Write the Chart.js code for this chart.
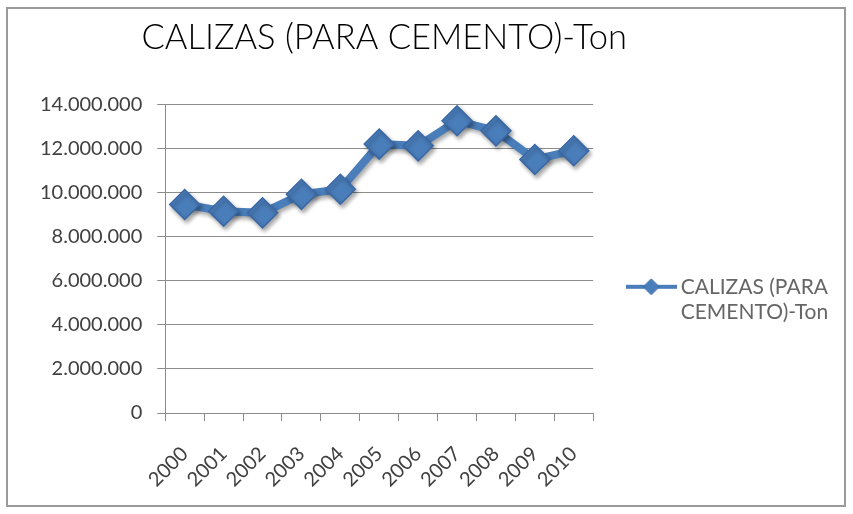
<!DOCTYPE html>
<html>
<head>
<meta charset="utf-8">
<title>CALIZAS (PARA CEMENTO)-Ton</title>
<script src="https://cdn.jsdelivr.net/npm/chart.js@4.4.1/dist/chart.umd.min.js"></script>
<style>
  html, body { margin: 0; padding: 0; background: #fff; }
  #frame {
    position: absolute; left: 6px; top: 7px;
    width: 840px; height: 500px;
    box-sizing: border-box;
    border: 2px solid #9a9a9a;
    background: #fff;
  }
  #G1 { display: block; }
</style>
</head>
<body>
<div id="frame"><canvas id="G1" width="836" height="496"></canvas></div>
<script>
const years = ['2000', '2001', '2002', '2003', '2004', '2005', '2006', '2007', '2008', '2009', '2010'];
const toneladas = [9460000, 9150000, 9080000, 9920000, 10150000, 12200000, 12120000, 13260000, 12800000, 11500000, 11900000];
const serieNombre = ['CALIZAS (PARA', 'CEMENTO)-Ton'];
const titulo = 'CALIZAS (PARA CEMENTO)-Ton';

const azul = '#4a7ebb';
const azulOscuro = '#3a68a6';
const fuente = 'Lato, "Open Sans", sans-serif';

// 14000000 -> 14.000.000
function puntos(v) {
  return String(v).replace(/\B(?=(\d{3})+(?!\d))/g, '.');
}

// legend symbol: line with a diamond on it
const simbolo = document.createElement('canvas');
simbolo.width = 51; simbolo.height = 18;
(function () {
  const c = simbolo.getContext('2d');
  c.strokeStyle = azul; c.lineWidth = 4;
  c.beginPath(); c.moveTo(0, 9); c.lineTo(51, 9); c.stroke();
  c.fillStyle = azul; c.strokeStyle = azulOscuro; c.lineWidth = 1;
  c.beginPath(); c.moveTo(25.5, 1); c.lineTo(33.5, 9); c.lineTo(25.5, 17); c.lineTo(17.5, 9); c.closePath();
  c.fill(); c.stroke();
})();

// soft drop shadow under the line and markers
const sombra = {
  id: 'sombra',
  beforeDatasetsDraw(chart) {
    const ctx = chart.ctx;
    ctx.save();
    ctx.shadowColor = 'rgba(0,0,0,0.35)';
    ctx.shadowBlur = 4;
    ctx.shadowOffsetX = 2;
    ctx.shadowOffsetY = 3;
  },
  afterDatasetsDraw(chart) {
    chart.ctx.restore();
  }
};

// give the title a bit more room than the plot width so it is not squeezed
const tituloAncho = {
  id: 'tituloAncho',
  afterLayout(chart) {
    const t = chart.titleBlock;
    if (!t) return;
    t.left = chart.chartArea.left - 40;
    t.right = chart.chartArea.right + 50;
  }
};

window.G1 = {
  type: 'line',
  data: {
    labels: years,
    datasets: [{
      label: titulo,
      data: toneladas,
      borderColor: azul,
      borderWidth: 8,
      pointStyle: 'rectRot',
      pointRadius: 15,
      pointBackgroundColor: azul,
      pointBorderColor: azulOscuro,
      pointBorderWidth: 1.5,
      tension: 0
    }]
  },
  options: {
    responsive: false,
    animation: false,
    layout: { padding: { top: 0, right: 6, bottom: 6, left: 17 } },
    plugins: {
      tooltip: { enabled: false },
      title: {
        display: true,
        text: titulo,
        fullSize: false,
        color: '#000',
        font: { family: fuente, size: 34.5, weight: 300 },
        padding: { top: 8, bottom: 46 }
      },
      legend: {
        position: 'right',
        align: 'center',
        maxWidth: 260,
        title: { display: true, text: ' ', padding: { top: 0, bottom: 71 }, font: { size: 20 } },
        labels: {
          usePointStyle: true,
          pointStyleWidth: 38,
          color: '#404040',
          font: { family: fuente, size: 21 },
          padding: 39,
          generateLabels() {
            return [{
              text: serieNombre,
              fillStyle: azul,
              strokeStyle: azul,
              pointStyle: simbolo,
              lineWidth: 0,
              hidden: false,
              datasetIndex: 0
            }];
          }
        }
      }
    },
    scales: {
      x: {
        offset: true,
        grid: { offset: true, drawOnChartArea: false, drawTicks: true, tickLength: 8, color: '#8c8c8c' },
        border: { color: '#8c8c8c' },
        ticks: {
          autoSkip: false, minRotation: 45, maxRotation: 45, padding: 21,
          color: '#404040', font: { family: fuente, size: 20 }
        },
        afterFit(scale) { scale.height = 86; }
      },
      y: {
        min: 0,
        max: 14000000,
        grid: { color: '#8c8c8c', tickLength: 8 },
        border: { color: '#8c8c8c' },
        ticks: {
          stepSize: 2000000, padding: 15,
          color: '#404040', font: { family: fuente, size: 20 },
          callback: (v) => puntos(v)
        }
      }
    }
  },
  plugins: [sombra, tituloAncho]
};

new Chart(document.getElementById('G1'), window.G1);
</script>
</body>
</html>
